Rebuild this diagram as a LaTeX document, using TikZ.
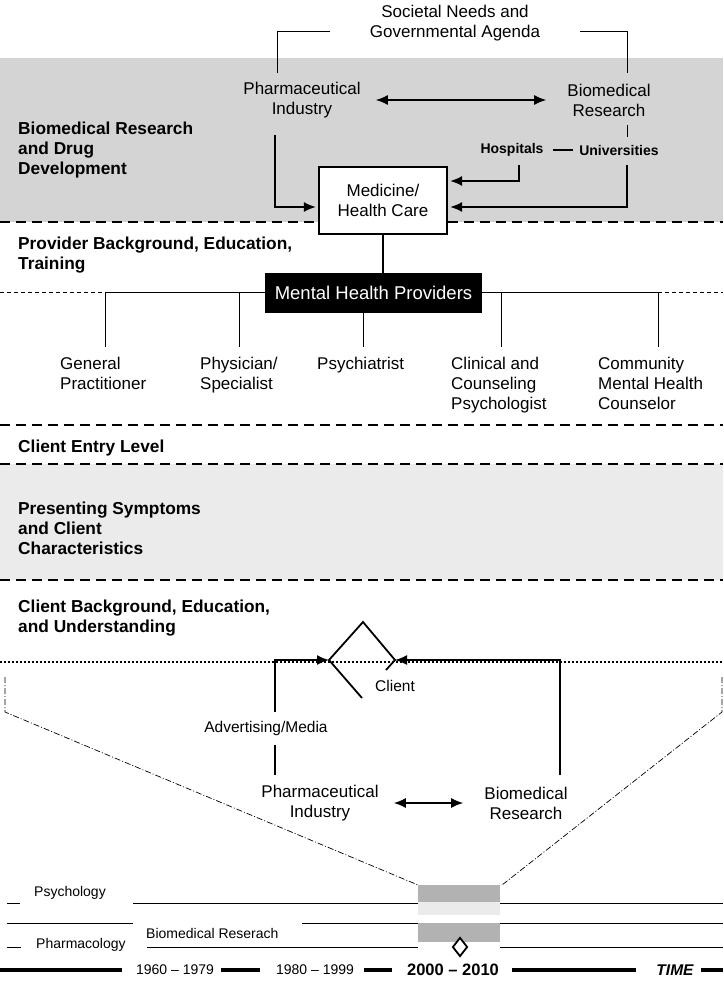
\documentclass[tikz,border=0pt]{standalone}
\usepackage{fontspec}
\setmainfont{Liberation Sans}
\usetikzlibrary{arrows.meta,shapes.geometric}
\tikzset{
  txt/.style={font=\fontsize{17}{20}\selectfont, align=center, inner sep=2pt},
  sect/.style={font=\fontsize{17.3}{20}\selectfont\bfseries, align=left, anchor=west, inner sep=0pt},
  stemlbl/.style={font=\fontsize{17}{20}\selectfont, align=left, anchor=north west, inner sep=0pt},
  hu/.style={font=\fontsize{14}{16}\selectfont\bfseries, inner sep=1pt},
  tl/.style={font=\fontsize{14}{16}\selectfont, inner sep=1pt},
  conn/.style={line width=1.6pt},
  arr/.style={conn, -{Latex[length=12pt,width=10pt]}},
  darr/.style={conn, {Latex[length=12pt,width=10pt]}-{Latex[length=12pt,width=10pt]}},
  thinln/.style={line width=0.9pt},
  bigdash/.style={line width=2.2pt, dash pattern=on 10pt off 6pt},
  thindash/.style={line width=0.9pt, dash pattern=on 4pt off 3pt},
  dotln/.style={line width=1.2pt, dash pattern=on 2pt off 2pt},
  dashdot/.style={line width=0.7pt, dash pattern=on 6pt off 2pt on 1pt off 2pt},
  timebar/.style={line width=4.5pt},
  band/.style={fill=black!17},
  bandlight/.style={fill=black!8},
}
\begin{document}
\begin{tikzpicture}[x=1pt, y=-1pt]
\useasboundingbox (0,0) rectangle (723,987);
% graue Baender
\fill[band] (0,58) rectangle (723,222);
\fill[bandlight] (0,464) rectangle (723,580);
\fill[black!30] (418,885) rectangle (500,902);
\fill[black!8] (418,902) rectangle (500,915);
\fill[black!30] (418,923) rectangle (500,942);

% Trennlinien
\draw[bigdash] (0,222) -- (723,222);
\draw[thindash] (0,292) -- (723,292);
\draw[bigdash] (0,425) -- (723,425);
\draw[bigdash] (0,464) -- (723,464);
\draw[bigdash] (0,580) -- (723,580);
\draw[dotln] (0,662) -- (723,662);

% Bereichstitel links
\node[sect] (s1) at (18,150) {Biomedical Research\\and Drug\\Development};
\node[sect] (s2) at (18,255) {Provider Background, Education,\\Training};
\node[sect] (s3) at (18,448) {Client Entry Level};
\node[sect] (s4) at (18,528) {Presenting Symptoms\\and Client\\Characteristics};
\node[sect] (s5) at (18,618) {Client Background, Education,\\and Understanding};

% oberer Teil
\node[txt] (soc) at (455,23) {Societal Needs and\\Governmental Agenda};
\draw[thinln] (330,31) -| (277,73);
\draw[thinln] (580,31) -| (627,73);
\node[txt] (pt) at (302,100) {Pharmaceutical\\Industry};
\node[txt] (bt) at (609,100) {Biomedical\\Research};
\draw[darr, shorten <=13pt, shorten >=19pt] (pt) -- (bt);
\node[hu] (hosp) at (512,150) {Hospitals};
\node[hu] (univ) at (619,150) {Universities};
\draw[line width=1.2pt, shorten <=8pt, shorten >=5pt] (hosp) -- (univ);
\draw[thinln] (627,125) -- (627,137);

\node[draw, fill=white, line width=2.2pt, minimum width=128pt, minimum height=67pt,
  txt] (med) at (383,200.5) {Medicine/\\Health Care};
\coordinate (ps) at (275,135);
\coordinate (hs) at (519,165);
\coordinate (us) at (627,165);
\draw[arr, shorten >=2pt] (ps) |- ([yshift=-6.5pt]med.west);
\draw[arr, shorten >=2pt] (hs) |- ([yshift=19.5pt]med.east);
\draw[arr, shorten >=2pt] (us) |- ([yshift=-6.5pt]med.east);

% Anbieter
\node[fill=black, text=white, minimum width=217pt, minimum height=40pt, inner sep=0pt,
  font=\fontsize{18.5}{20}\selectfont] (mhp) at (373.5,293) {Mental Health Providers};
\draw[conn] (med.south) -- (med.south |- mhp.north);
\draw[thinln] (105,292) -- (mhp.west |- 105,292);
\draw[thinln] (mhp.east |- 658,292) -- (658,292);
\foreach \x in {105,239,501,658}
  \draw[thinln] (\x,292) -- (\x,347);
\draw[thinln] (363,313) -- (363,347);
\node[stemlbl] (gp)   at (60,357)  {General\\Practitioner};
\node[stemlbl] (phys) at (200,357) {Physician/\\Specialist};
\node[stemlbl] (psy)  at (317,357) {Psychiatrist};
\node[stemlbl] (clin) at (451,357) {Clinical and\\Counseling\\Psychologist};
\node[stemlbl] (comm) at (598,357) {Community\\Mental Health\\Counselor};

% Klient
\coordinate (cl) at (329,660);
\coordinate (cr) at (395,660);
\draw[line width=1.8pt] (386,670) -- (cr) -- (363,622) -- (cl) -- (362,698);
\node[txt, font=\fontsize{15.5}{18}\selectfont] (client) at (395,686) {Client};
\node[txt, font=\fontsize{15.5}{18}\selectfont] (adv) at (266,728) {Advertising/Media};
\node[txt] (pb) at (320,803) {Pharmaceutical\\Industry};
\node[txt] (bb) at (526,803) {Biomedical\\Research};
\draw[darr, shorten <=13pt, shorten >=19pt] (pb) -- (bb);
\coordinate (al) at (275,712);
\coordinate (am) at (275,745);
\coordinate (an) at (275,775);
\coordinate (bn) at (560,775);
\draw[conn] (an) -- (am);
\draw[arr] (al) |- (cl);
\draw[arr] (bn) |- (cr);

% Trichter
\draw[dashdot] (5,677) -- (5,712) -- (418,885);
\draw[dashdot] (722,677) -- (722,712) -- (502,885);

% Zeitachse
\node[tl, anchor=west] (psyc) at (33,893) {Psychology};
\node[tl, anchor=west] (biom) at (145,933) {Biomedical Reserach};
\node[tl, anchor=west] (phar) at (35,945) {Pharmacology};
\draw[thinln] (7,903) -- (20,903);
\draw[thinln] (133,903) -- (418,903);
\draw[thinln] (500,903) -- (723,903);
\draw[thinln] (7,923) -- (133,923);
\draw[thinln] (302,923) -- (418,923);
\draw[thinln] (500,923) -- (723,923);
\draw[thinln] (7,947) -- (21,947);
\draw[thinln] (147,947) -- (418,947);
\draw[thinln] (500,947) -- (723,947);
\node[draw, fill=white, diamond, line width=1.8pt, minimum width=15pt, minimum height=19pt,
  inner sep=0pt] (now) at (460,947) {};

\node[tl] (t1) at (175,970) {1960 -- 1979};
\node[tl] (t2) at (315,970) {1980 -- 1999};
\node[tl, font=\fontsize{16.5}{18}\selectfont\bfseries] (t3) at (453,970) {2000 -- 2010};
\node[tl, font=\fontsize{15.5}{18}\selectfont\bfseries\itshape] (time) at (675,970) {TIME};
\draw[timebar] (0,970) -- (122,970);
\draw[timebar] (221,970) -- (260,970);
\draw[timebar] (364,970) -- (392,970);
\draw[timebar] (512,970) -- (636,970);
\draw[timebar] (701,970) -- (723,970);
\end{tikzpicture}
\end{document}
